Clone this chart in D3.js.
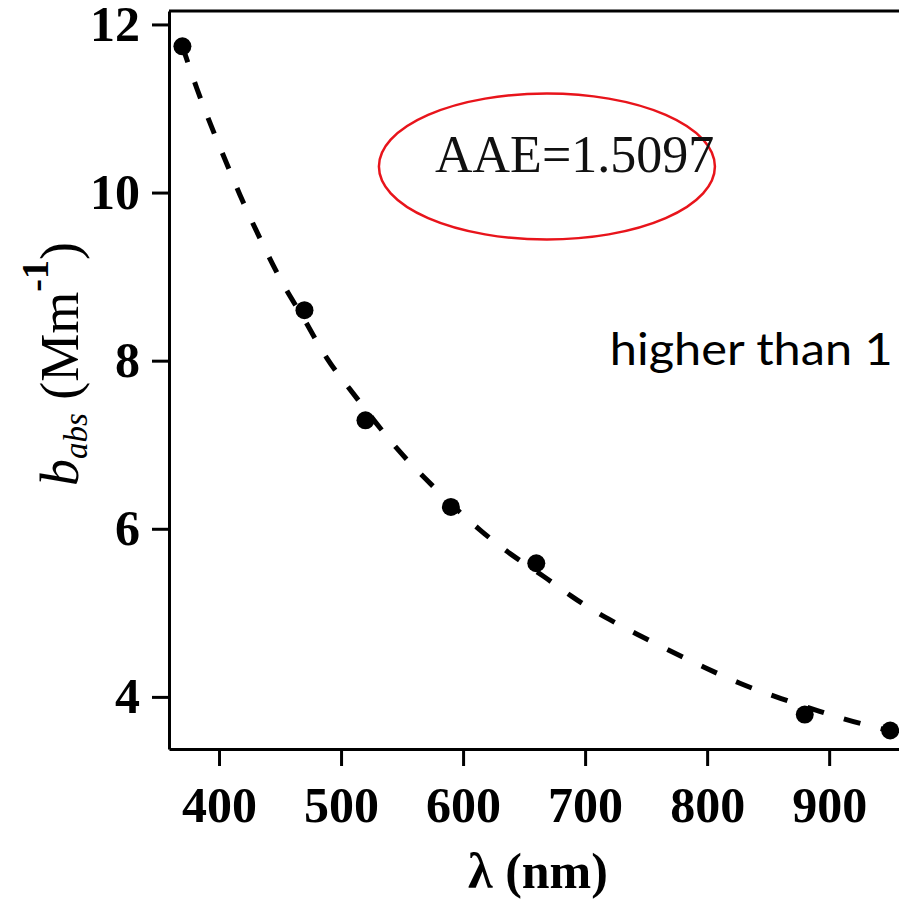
<!DOCTYPE html>
<html>
<head>
<meta charset="utf-8">
<script src="https://cdn.jsdelivr.net/npm/d3@7"></script>
<style>
  html, body { margin: 0; padding: 0; background: #fff; }
  svg { display: block; }
</style>
</head>
<body>
<svg id="chart" width="899" height="899"></svg>
<script>
// ---- data ----
const wavelengths = [370, 470, 520, 590, 660, 880, 950];
const babs = [11.74, 8.60, 7.29, 6.26, 5.59, 3.79, 3.60];

// fitted curve
const fitLambda = [370, 382, 393, 405, 417, 430, 444, 458, 470, 488, 509, 521, 547, 569, 590, 614, 638, 667, 689, 715, 770, 798, 826, 856, 914, 957];
const fitB = [11.74, 11.22, 10.81, 10.39, 9.97, 9.56, 9.14, 8.76, 8.50, 8.01, 7.63, 7.40, 6.92, 6.60, 6.29, 5.98, 5.70, 5.43, 5.19, 4.95, 4.54, 4.35, 4.16, 4.00, 3.72, 3.57];

const xTicks = [400, 500, 600, 700, 800, 900];
const yTicks = [4, 6, 8, 10, 12];

const aaeLabel = "AAE=1.5097";
const noteLabel = "higher than 1";

// ---- scales ----
const svg = d3.select("#chart");
const x = d3.scaleLinear().domain([359, 1040]).range([169, 1000]);
const y = d3.scaleLinear().domain([3.38, 12.16]).range([749, 11]);

const serif = "'Liberation Serif', 'Times New Roman', serif";

// frame top line
svg.append("line")
  .attr("x1", x(359)).attr("x2", x(1040))
  .attr("y1", y(12.16)).attr("y2", y(12.16))
  .attr("stroke", "#000").attr("stroke-width", 3);

// axes
const xAxis = svg.append("g")
  .attr("transform", `translate(0,${y(3.38)})`)
  .call(d3.axisBottom(x).tickValues(xTicks).tickSize(17).tickSizeOuter(0).tickPadding(21));
const yAxis = svg.append("g")
  .attr("transform", `translate(${x(359)},0)`)
  .call(d3.axisLeft(y).tickValues(yTicks).tickSize(17).tickSizeOuter(0).tickPadding(12));

[xAxis, yAxis].forEach(g => {
  g.select(".domain").attr("stroke-width", 3);
  g.selectAll(".tick line").attr("stroke-width", 3);
  g.selectAll(".tick text")
    .attr("font-family", serif)
    .attr("font-weight", "bold")
    .attr("font-size", 50)
    .attr("fill", "#000");
});
xAxis.selectAll(".tick text").attr("dy", "0.7em");

// fit curve
const line = d3.line().x((d, i) => x(fitLambda[i])).y(d => y(d)).curve(d3.curveBasis);
svg.append("path")
  .datum(fitB)
  .attr("d", line)
  .attr("fill", "none")
  .attr("stroke", "#000")
  .attr("stroke-width", 5)
  .attr("stroke-dasharray", "17,21");

// points
svg.selectAll("circle.pt")
  .data(wavelengths)
  .join("circle")
  .attr("class", "pt")
  .attr("cx", d => x(d))
  .attr("cy", (d, i) => y(babs[i]))
  .attr("r", 9)
  .attr("fill", "#000");

// x label
svg.append("text")
  .attr("x", 538).attr("y", 888)
  .attr("text-anchor", "middle")
  .attr("font-family", serif)
  .attr("font-weight", "bold")
  .attr("font-size", 50)
  .text("λ (nm)");

// y label
const yl = svg.append("text")
  .attr("transform", "translate(78,364) rotate(-90)")
  .attr("text-anchor", "middle")
  .attr("font-family", serif)
  .attr("font-size", 54);
yl.append("tspan").attr("font-style", "italic").text("b");
yl.append("tspan").attr("font-style", "italic").attr("font-size", 33).attr("dy", 9).text("abs");
yl.append("tspan").attr("dy", -9).text(" (Mm");
yl.append("tspan").attr("font-size", 38).attr("font-weight", "bold").attr("dy", -30).text("-1");
yl.append("tspan").attr("dy", 30).text(")");

// annotation ellipse & text
svg.append("ellipse")
  .attr("cx", x(668.7)).attr("cy", y(10.31))
  .attr("rx", 168).attr("ry", 73)
  .attr("fill", "none")
  .attr("stroke", "#e8141b")
  .attr("stroke-width", 2.5);

svg.append("text")
  .attr("x", x(577)).attr("y", y(10.25))
  .attr("font-family", serif)
  .attr("font-size", 52)
  .attr("fill", "#111")
  .text(aaeLabel);

svg.append("text")
  .attr("x", x(720.3)).attr("y", y(7.95))
  .attr("font-family", "Lato, 'Open Sans', sans-serif")
  .attr("font-size", 45)
  .attr("textLength", 283)
  .attr("lengthAdjust", "spacingAndGlyphs")
  .attr("fill", "#000")
  .text(noteLabel);
</script>
</body>
</html>
